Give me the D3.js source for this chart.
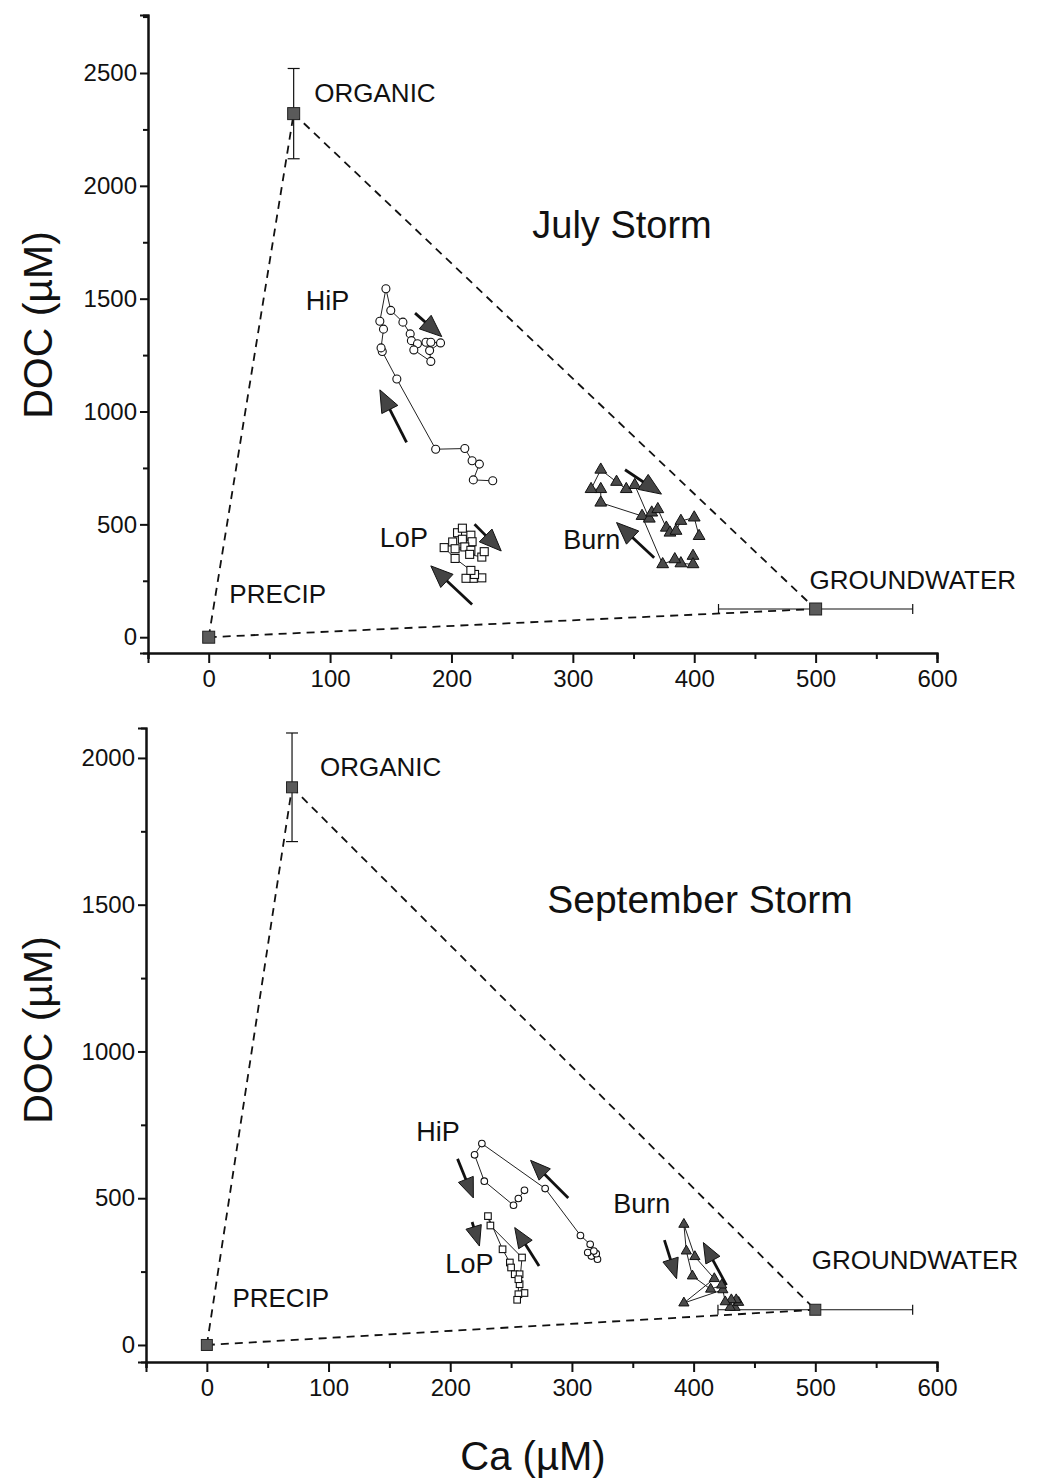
<!DOCTYPE html>
<html>
<head>
<meta charset="utf-8">
<script src="https://cdn.jsdelivr.net/npm/d3@7"></script>
<style>
  html, body { margin: 0; padding: 0; background: #fff; }
  svg { display: block; }
  text { font-family: "Liberation Sans", Arial, sans-serif; fill: #111; }
</style>
</head>
<body>
<svg id="chart" width="1062" height="1481"></svg>
<script>
// ---------------- DATA ----------------
const xTicks = [0, 100, 200, 300, 400, 500, 600];
const yTicksJuly = [0, 500, 1000, 1500, 2000, 2500];
const yTicksSept = [0, 500, 1000, 1500, 2000];

// End-members
const endJuly = [
  { name: "PRECIP", ca: 0, doc: 0, caErr: 0, docErr: 0 },
  { name: "ORGANIC", ca: 70, doc: 2320, caErr: 0, docErr: 200 },
  { name: "GROUNDWATER", ca: 500, doc: 125, caErr: 80, docErr: 0 }
];
const endSept = [
  { name: "PRECIP", ca: 0, doc: 0, caErr: 0, docErr: 0 },
  { name: "ORGANIC", ca: 70, doc: 1900, caErr: 0, docErr: 185 },
  { name: "GROUNDWATER", ca: 500, doc: 120, caErr: 80, docErr: 0 }
];

// July storm – [Ca, DOC]
const julyHiP = [[234,693],[218,697],[223,767],[217,782],[211,836],[187,833],[155,1144],[143,1266],[142,1282],[144,1365],[141,1400],[146,1544],[150,1448],[160,1396],[166,1344],[167,1314],[172,1300],[179,1307],[183,1307],[191,1304],[182,1270],[183,1222],[169,1273]];
const julyLoP = [[225,263],[218,261],[212,261],[219,278],[216,296],[203,349],[194,397],[201,422],[205,463],[209,483],[216,452],[209,434],[217,423],[211,400],[203,392],[216,385],[215,367],[225,355],[227,379]];
const julyBurn = [[399,360],[399,323],[389,327],[384,345],[374,323],[357,537],[323,596],[323,656],[315,656],[323,742],[336,688],[344,656],[351,674],[363,525],[365,552],[370,567],[377,485],[380,463],[385,471],[389,515],[400,530],[404,448]];

// September storm – [Ca, DOC]
const septHiP = [[321,292],[316,303],[320,311],[313,315],[318,320],[315,343],[307,373],[278,533],[226,686],[220,648],[228,558],[252,476],[256,499],[261,527]];
const septLoP = [[261,177],[257,207],[259,298],[233,407],[231,439],[243,326],[249,281],[250,264],[253,241],[257,241],[256,224],[256,173],[255,154]];
const septBurn = [[434,128],[430,128],[437,145],[435,154],[431,154],[426,147],[424,188],[392,143],[417,226],[401,301],[392,411],[394,320],[399,235],[414,190],[423,204]];

// Arrows [fromCa, fromDOC, toCa, toDOC]
const julyArrows = [[163,863,141,1096],[170,1436,192,1332],[219,500,241,382],[217,145,183,316],[343,742,373,634],[367,352,336,508]];
const septArrows = [[206,634,219,501],[297,501,266,629],[218,419,224,337],[273,269,253,400],[376,357,386,226],[427,204,408,349]];

// Labels [text, Ca, DOC]
const julyLabels = [["ORGANIC",87,2370],["HiP",80,1450],["LoP",141,400],["Burn",292,390],["PRECIP",17,150],["GROUNDWATER",495,215]];
const septLabels = [["ORGANIC",93,1940],["HiP",172,695],["LoP",196,245],["Burn",334,450],["PRECIP",21,130],["GROUNDWATER",497,260]];

// ---------------- DRAW ----------------
const svg = d3.select("#chart");

function drawPanel(cfg) {
  const x = d3.scaleLinear().domain([-50, 600]).range(cfg.xRange);
  const y = d3.scaleLinear().domain(cfg.yDomain).range(cfg.yRange);
  const g = svg.append("g");

  // axes
  const xAxis = d3.axisBottom(x).tickValues(xTicks).tickSize(10).tickPadding(7).tickFormat(d3.format("d"));
  const xMinor = d3.axisBottom(x).tickValues(d3.range(-50, 601, 50).filter(v => v % 100 !== 0)).tickSize(6).tickFormat("");
  const yAxis = d3.axisLeft(y).tickValues(cfg.yTicks).tickSize(8).tickPadding(3).tickFormat(d3.format("d"));
  const yMinor = d3.axisLeft(y).tickValues(cfg.yMinor).tickSize(5).tickFormat("");

  g.append("g").attr("transform", `translate(0,${cfg.yRange[0]})`).call(xAxis);
  g.append("g").attr("transform", `translate(0,${cfg.yRange[0]})`).call(xMinor);
  g.append("g").attr("transform", `translate(${cfg.xRange[0]},0)`).call(yAxis);
  g.append("g").attr("transform", `translate(${cfg.xRange[0]},0)`).call(yMinor);
  g.selectAll(".domain").attr("stroke", "#111").attr("stroke-width", 2);
  g.selectAll(".tick line").attr("stroke", "#111").attr("stroke-width", 2);
  g.selectAll(".tick text").style("font-size", "24px").style("font-family", "'Liberation Sans', Arial, sans-serif").attr("fill", "#111");

  // mixing triangle (dashed)
  const em = cfg.end;
  const tri = [[em[0], em[1]], [em[1], em[2]], [em[0], em[2]]];
  tri.forEach(([a, b]) => {
    g.append("line")
      .attr("x1", x(a.ca)).attr("y1", y(a.doc))
      .attr("x2", x(b.ca)).attr("y2", y(b.doc))
      .attr("stroke", "#111").attr("stroke-width", 1.8)
      .attr("stroke-dasharray", "8,6");
  });

  // error bars
  em.forEach(d => {
    if (d.docErr) {
      const cx = x(d.ca), y1 = y(d.doc + d.docErr), y2 = y(d.doc - d.docErr);
      g.append("line").attr("x1", cx).attr("x2", cx).attr("y1", y1).attr("y2", y2).attr("stroke", "#111").attr("stroke-width", 1.2);
      [y1, y2].forEach(yy => g.append("line").attr("x1", cx - 6).attr("x2", cx + 6).attr("y1", yy).attr("y2", yy).attr("stroke", "#111").attr("stroke-width", 1.2));
    }
    if (d.caErr) {
      const cy = y(d.doc), x1 = x(d.ca - d.caErr), x2 = x(d.ca + d.caErr);
      g.append("line").attr("x1", x1).attr("x2", x2).attr("y1", cy).attr("y2", cy).attr("stroke", "#111").attr("stroke-width", 1.2);
      [x1, x2].forEach(xx => g.append("line").attr("x1", xx).attr("x2", xx).attr("y1", cy - 5).attr("y2", cy + 5).attr("stroke", "#111").attr("stroke-width", 1.2));
    }
  });

  // end-member squares
  g.selectAll(".em").data(em).enter().append("rect")
    .attr("x", d => x(d.ca) - cfg.emSize / 2).attr("y", d => y(d.doc) - cfg.emSize / 2)
    .attr("width", cfg.emSize).attr("height", cfg.emSize)
    .attr("fill", "#5a5a5a").attr("stroke", "#222").attr("stroke-width", 1);

  const line = d3.line().x(d => x(d[0])).y(d => y(d[1]));

  // series paths
  [cfg.hip, cfg.lop, cfg.burn].forEach(s => {
    g.append("path").attr("d", line(s)).attr("fill", "none").attr("stroke", "#222").attr("stroke-width", 1);
  });

  // HiP circles
  g.selectAll(".hip").data(cfg.hip).enter().append("circle")
    .attr("cx", d => x(d[0])).attr("cy", d => y(d[1])).attr("r", cfg.r)
    .attr("fill", "#fff").attr("stroke", "#111").attr("stroke-width", 1.1);
  // LoP squares
  const sq = cfg.r * 2;
  g.selectAll(".lop").data(cfg.lop).enter().append("rect")
    .attr("x", d => x(d[0]) - sq / 2).attr("y", d => y(d[1]) - sq / 2)
    .attr("width", sq).attr("height", sq)
    .attr("fill", "#fff").attr("stroke", "#111").attr("stroke-width", 1.1);
  // Burn triangles
  const tri2 = d3.symbol().type(d3.symbolTriangle).size(cfg.triSize);
  g.selectAll(".burn").data(cfg.burn).enter().append("path")
    .attr("d", tri2)
    .attr("transform", d => `translate(${x(d[0])},${y(d[1])})`)
    .attr("fill", "#4a4a4a").attr("stroke", "#111").attr("stroke-width", 1);

  // arrows
  cfg.arrows.forEach(a => {
    const x0 = x(a[0]), y0 = y(a[1]), x1 = x(a[2]), y1 = y(a[3]);
    const dx = x1 - x0, dy = y1 - y0, L = Math.hypot(dx, dy);
    const ux = dx / L, uy = dy / L;
    const hl = cfg.headLen, hw = cfg.headW;
    const bx = x1 - ux * hl, by = y1 - uy * hl;
    g.append("line").attr("x1", x0).attr("y1", y0).attr("x2", bx + ux * 2).attr("y2", by + uy * 2)
      .attr("stroke", "#111").attr("stroke-width", 2.8);
    g.append("path")
      .attr("d", `M${x1},${y1}L${bx - uy * hw},${by + ux * hw}L${bx + uy * hw},${by - ux * hw}Z`)
      .attr("fill", "#444").attr("stroke", "#111").attr("stroke-width", 1);
  });

  // labels
  cfg.labels.forEach(l => {
    const big = (l[0] === "HiP" || l[0] === "LoP" || l[0] === "Burn");
    g.append("text").attr("x", x(l[1])).attr("y", y(l[2]))
      .style("font-size", big ? "27px" : "26px")
      .text(l[0]);
  });

  // storm title
  g.append("text").attr("x", cfg.title[1]).attr("y", cfg.title[2])
    .attr("text-anchor", "middle").style("font-size", cfg.titleSize + "px").text(cfg.title[0]);

  // y-axis title
  g.append("text")
    .attr("transform", `translate(${cfg.yTitle[0]},${cfg.yTitle[1]}) rotate(-90)`)
    .attr("text-anchor", "middle").style("font-size", "41px").text("DOC (\u00B5M)");
}

drawPanel({
  xRange: [148, 937], yDomain: [-70, 2757], yRange: [653, 15],
  yTicks: yTicksJuly, yMinor: [250, 750, 1250, 1750, 2250, 2750],
  end: endJuly, hip: julyHiP, lop: julyLoP, burn: julyBurn,
  arrows: julyArrows, labels: julyLabels,
  r: 4, triSize: 60, emSize: 12, headLen: 22, headW: 9,
  title: ["July Storm", 622, 238], titleSize: 38, yTitle: [52, 325]
});

drawPanel({
  xRange: [146, 937], yDomain: [-58, 2102], yRange: [1362, 728],
  yTicks: yTicksSept, yMinor: [250, 750, 1250, 1750],
  end: endSept, hip: septHiP, lop: septLoP, burn: septBurn,
  arrows: septArrows, labels: septLabels,
  r: 3.3, triSize: 45, emSize: 11, headLen: 20, headW: 8,
  title: ["September Storm", 700, 913], titleSize: 39, yTitle: [52, 1030]
});

// x-axis title
svg.append("text").attr("x", 533).attr("y", 1470).attr("text-anchor", "middle")
  .style("font-size", "40px").text("Ca (\u00B5M)");
</script>
</body>
</html>
